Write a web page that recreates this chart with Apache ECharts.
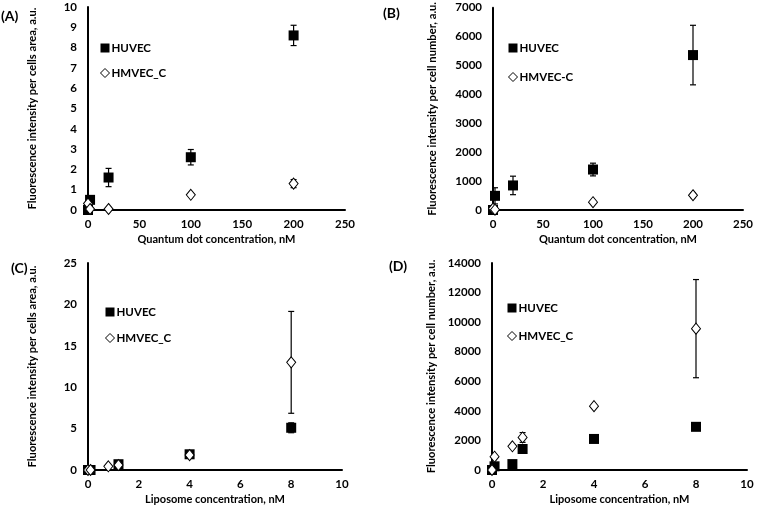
<!DOCTYPE html>
<html>
<head>
<meta charset="utf-8">
<script src="https://cdn.jsdelivr.net/npm/echarts@6/dist/echarts.min.js"></script>
<style>html,body{margin:0;padding:0;background:#fff}#c{width:758px;height:508px}</style>
</head>
<body>
<div id="c"></div>
<script>
// ---- Data ----
// Panel A: Quantum dot, per cells area
const aHuvecX = [0, 2, 20, 100, 200];
const aHuvecY = [0, 0.5, 1.6, 2.6, 8.6];
const aHuvecE = [0, 0, 0.45, 0.38, 0.5];
const aHmvecX = [0, 2, 20, 100, 200];
const aHmvecY = [0.32, 0.05, 0.05, 0.75, 1.3];
const aHmvecE = [0, 0, 0, 0.05, 0.2];
// Panel B: Quantum dot, per cell number
const bHuvecX = [0, 2, 20, 100, 200];
const bHuvecY = [0, 490, 850, 1400, 5360];
const bHuvecE = [0, 280, 320, 220, 1030];
const bHmvecX = [0, 2, 100, 200];
const bHmvecY = [50, 10, 270, 510];
const bHmvecE = [0, 0, 0, 80];
// Panel C: Liposome, per cells area
const cHuvecX = [0, 0.1, 1.2, 4, 8];
const cHuvecY = [0, 0, 0.7, 1.9, 5.1];
const cHuvecE = [0, 0, 0.15, 0.2, 0.6];
const cHmvecX = [0, 0.1, 0.8, 1.2, 4, 8];
const cHmvecY = [0, 0, 0.45, 0.6, 1.8, 13];
const cHmvecE = [0, 0, 0, 0.1, 0.2, 6.15];
// Panel D: Liposome, per cell number
const dHuvecX = [0, 0.1, 0.8, 1.2, 4, 8];
const dHuvecY = [0, 250, 400, 1420, 2100, 2920];
const dHuvecE = [0, 0, 0, 0, 0, 0];
const dHmvecX = [0, 0.1, 0.8, 1.2, 4, 8];
const dHmvecY = [0, 900, 1600, 2200, 4320, 9560];
const dHmvecE = [0, 0, 100, 330, 0, 3320];

const panelLabels = ['(A)', '(B)', '(C)', '(D)'];
const xTitles = ['Quantum dot concentration, nM', 'Quantum dot concentration, nM', 'Liposome concentration, nM', 'Liposome concentration, nM'];
const yTitles = ['Fluorescence intensity per cells area, a.u.', 'Fluorescence intensity per cell number, a.u.', 'Fluorescence intensity per cells area, a.u.', 'Fluorescence intensity per cell number, a.u.'];
const xMax = [250, 250, 10, 10];
const xInterval = [50, 50, 2, 2];
const yMax = [10, 7000, 25, 14000];
const yInterval = [1, 1000, 5, 2000];
const hmvecNames = ['HMVEC_C', 'HMVEC-C', 'HMVEC_C', 'HMVEC_C'];

// ---- Layout ----
const FONT = 'Lato';
const grids = [
  {left: 88, top: 7, width: 257, height: 203},
  {left: 493, top: 5, width: 250, height: 205},
  {left: 88, top: 263, width: 254, height: 207},
  {left: 492, top: 263, width: 255, height: 207}
];
const legendPos = [
  {left: 100, top: 42, gap: 13},
  {left: 508, top: 42, gap: 17},
  {left: 105, top: 306, gap: 14},
  {left: 507, top: 302, gap: 16}
];
const labelPos = [[1, 9], [383, 6], [11, 261], [389, 259]];

function pts(xs, ys, es) { return xs.map((x, i) => es ? [x, ys[i], es[i]] : [x, ys[i]]); }

function errSeries(idx, data) {
  return {
    type: 'custom', xAxisIndex: idx, yAxisIndex: idx, z: 1, silent: true,
    data: data,
    encode: {x: 0, y: 1},
    renderItem: function (params, api) {
      const x = api.value(0), y = api.value(1), e = api.value(2);
      if (!e) return null;
      const t = api.coord([x, y + e]);
      const b = api.coord([x, y - e]);
      const hw = 3;
      const st = {stroke: '#000', lineWidth: 1.2};
      return {type: 'group', children: [
        {type: 'line', shape: {x1: t[0], y1: t[1], x2: b[0], y2: b[1]}, style: st},
        {type: 'line', shape: {x1: t[0] - hw, y1: t[1], x2: t[0] + hw, y2: t[1]}, style: st},
        {type: 'line', shape: {x1: b[0] - hw, y1: b[1], x2: b[0] + hw, y2: b[1]}, style: st}
      ]};
    }
  };
}

const panels = [
  [aHuvecX, aHuvecY, aHuvecE, aHmvecX, aHmvecY, aHmvecE],
  [bHuvecX, bHuvecY, bHuvecE, bHmvecX, bHmvecY, bHmvecE],
  [cHuvecX, cHuvecY, cHuvecE, cHmvecX, cHmvecY, cHmvecE],
  [dHuvecX, dHuvecY, dHuvecE, dHmvecX, dHmvecY, dHmvecE]
];

const textBase = {fontFamily: FONT, fontWeight: 'bold', color: '#000'};
const squareStyle = {color: '#000', opacity: 1};
const diamondStyle = {color: '#fff', borderColor: '#000', borderWidth: 1, opacity: 1};
const xAxes = [], yAxes = [], series = [], legends = [], titles = [];
panels.forEach((p, i) => {
  xAxes.push({
    gridIndex: i, type: 'value', min: 0, max: xMax[i], interval: xInterval[i],
    axisLine: {show: true, onZero: false, lineStyle: {color: '#000', width: 2}},
    axisTick: {show: false}, splitLine: {show: false},
    axisLabel: Object.assign({fontSize: 11.5, margin: 8, formatter: v => String(v)}, textBase),
    name: xTitles[i], nameLocation: 'middle', nameGap: 24,
    nameTextStyle: Object.assign({fontSize: 11}, textBase)
  });
  yAxes.push({
    gridIndex: i, type: 'value', min: 0, max: yMax[i], interval: yInterval[i],
    axisLine: {show: true, onZero: false, lineStyle: {color: '#000', width: 2}},
    axisTick: {show: false}, splitLine: {show: false},
    axisLabel: Object.assign({fontSize: 11.5, margin: 11, formatter: v => String(v)}, textBase),
    name: yTitles[i], nameLocation: 'middle', nameRotate: 90,
    nameGap: (i % 2 === 0) ? 50 : 55,
    nameTextStyle: Object.assign({fontSize: 11.2}, textBase)
  });
  series.push(errSeries(i, pts(p[0], p[1], p[2])));
  series.push(errSeries(i, pts(p[3], p[4], p[5])));
  series.push({
    name: 'HUVEC', type: 'scatter', xAxisIndex: i, yAxisIndex: i, z: 3,
    symbol: 'rect', symbolSize: 10, clip: false,
    itemStyle: squareStyle,
    emphasis: {disabled: true},
    data: pts(p[0], p[1])
  });
  series.push({
    name: hmvecNames[i], type: 'scatter', xAxisIndex: i, yAxisIndex: i, z: 4,
    symbol: 'diamond', symbolSize: [9, 11], clip: false,
    itemStyle: diamondStyle,
    emphasis: {disabled: true},
    data: pts(p[3], p[4])
  });
  legends.push({
    orient: 'vertical', left: legendPos[i].left, top: legendPos[i].top,
    itemGap: legendPos[i].gap, itemWidth: 9, itemHeight: 9, padding: 0,
    textStyle: Object.assign({fontSize: 11.5, padding: [0, 0, 0, -3]}, textBase),
    data: [
      {name: 'HUVEC', icon: 'rect', itemStyle: squareStyle},
      {name: hmvecNames[i], icon: 'diamond', itemStyle: diamondStyle}
    ]
  });
  titles.push({
    text: panelLabels[i], left: labelPos[i][0], top: labelPos[i][1], padding: 0,
    textStyle: Object.assign({fontSize: 14}, textBase)
  });
});

const chart = echarts.init(document.getElementById('c'), null, {renderer: 'canvas'});
chart.setOption({
  animation: false,
  backgroundColor: '#fff',
  title: titles,
  legend: legends,
  grid: grids,
  xAxis: xAxes,
  yAxis: yAxes,
  series: series
});
</script>
</body>
</html>
